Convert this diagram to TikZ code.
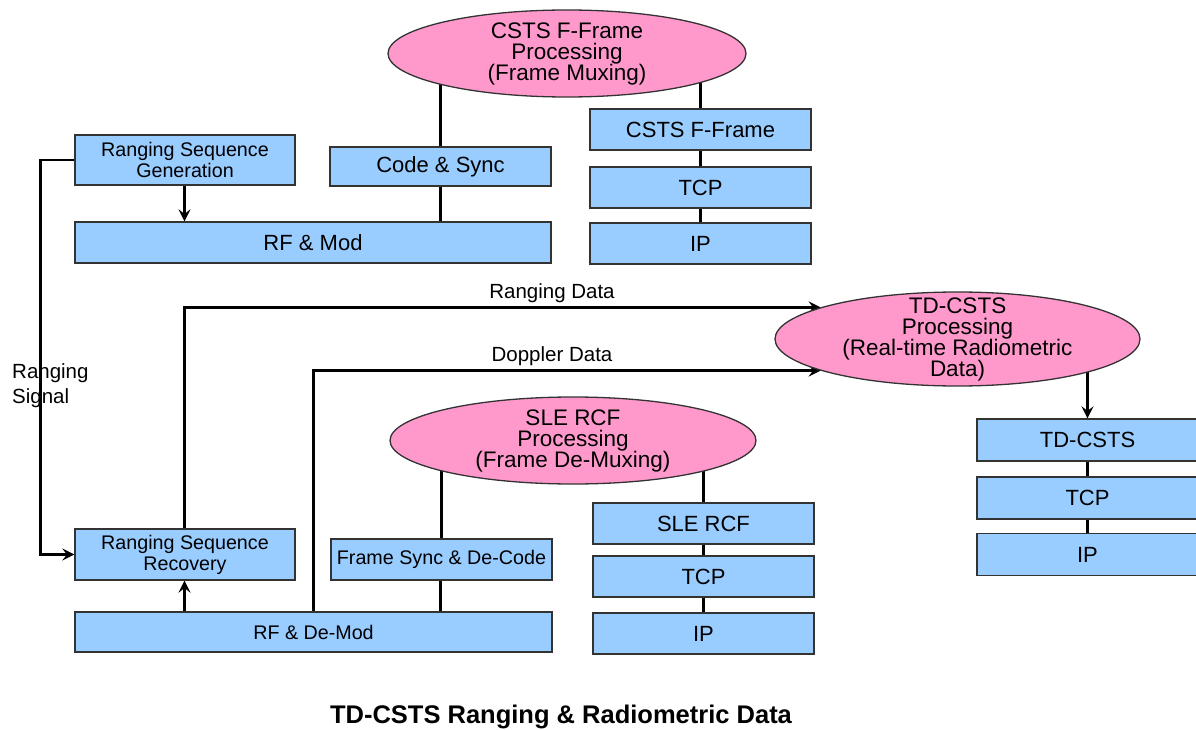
\documentclass[tikz,border=0pt]{standalone}
\usepackage{fontspec}
\setmainfont{Liberation Sans}
\usetikzlibrary{arrows.meta,shapes.geometric}
\pgfdeclarelayer{bg}
\pgfdeclarelayer{paper}
\pgfsetlayers{paper,bg,main}
\definecolor{boxblue}{HTML}{99CCFF}
\definecolor{ellpink}{HTML}{FF99CC}
\begin{document}
\begin{tikzpicture}[x=1pt,y=-1pt,
  box/.style={draw=black!80, line width=1.3pt, fill=boxblue, rectangle, inner sep=0pt, align=center, font=\fontsize{22}{22}\selectfont},
  smallbox/.style={box, font=\fontsize{19.7}{21}\selectfont},
  proc/.style={draw=black!80, line width=1.3pt, fill=ellpink, ellipse, inner sep=0pt},
  ptext/.style={align=center, inner sep=0pt, font=\fontsize{22.5}{21}\selectfont},
  conn/.style={line width=2.4pt, black},
  arr/.style={conn, -{Stealth[length=12pt,width=12pt,inset=4.5pt]}},
  lbl/.style={inner sep=0pt, font=\fontsize{20.5}{25}\selectfont}
]
\begin{pgfonlayer}{paper}
\fill[white] (0,0) rectangle (1196,730);
\end{pgfonlayer}
\useasboundingbox (0,0) rectangle (1196,730);

% top-left group
\node[proc, minimum width=358pt, minimum height=87pt,
  label={[ptext,name=cststxt]center:{CSTS F-Frame\\Processing\\(Frame Muxing)}}] (csts) at (567,53.5) {};
\node[smallbox, minimum width=220pt, minimum height=50pt] (rsg) at (185,160) {Ranging Sequence\\Generation};
\node[box, minimum width=221pt, minimum height=39pt] (cs) at (440.5,166.5) {Code \& Sync};
\node[box, minimum width=476pt, minimum height=41pt] (rfm) at (313,242.5) {RF \& Mod};
\node[box, minimum width=221pt, minimum height=41pt] (ff) at (700.5,129.5) {CSTS F-Frame};
\node[box, minimum width=221pt, minimum height=41pt] (tcpa) at (700.5,187.5) {TCP};
\node[box, minimum width=221pt, minimum height=41pt] (ipa) at (700.5,243.5) {IP};

% right group
\node[proc, minimum width=365pt, minimum height=94pt,
  label={[ptext,name=tdtxt]center:{TD-CSTS\\Processing\\(Real-time Radiometric\\Data)}}] (tdp) at (957.5,339) {};
\node[box, minimum width=221pt, minimum height=42pt] (tdb) at (1087.5,440) {TD-CSTS};
\node[box, minimum width=221pt, minimum height=42pt] (tcpc) at (1087.5,498) {TCP};
\node[box, minimum width=221pt, minimum height=42pt] (ipc) at (1087.5,554.5) {IP};

% bottom group
\node[proc, minimum width=366pt, minimum height=87pt,
  label={[ptext,name=sletxt]center:{SLE RCF\\Processing\\(Frame De-Muxing)}}] (sle) at (573,440.5) {};
\node[box, minimum width=221pt, minimum height=41pt] (rcf) at (703.5,523.5) {SLE RCF};
\node[box, minimum width=221pt, minimum height=41pt] (tcpb) at (703.5,576.5) {TCP};
\node[box, minimum width=221pt, minimum height=41pt] (ipb) at (703.5,633.5) {IP};
\node[smallbox, minimum width=220pt, minimum height=51pt] (rsr) at (185,554.5) {Ranging Sequence\\Recovery};
\node[smallbox, minimum width=221pt, minimum height=41pt] (fs) at (441.5,559.5) {Frame Sync \& De-Code};
\node[smallbox, minimum width=477pt, minimum height=40pt] (rfd) at (313.5,632) {RF \& De-Mod};

% labels
\node[lbl, anchor=west, align=left] (rsig) at (12,385.5) {Ranging\\Signal};
\node[lbl] (rdl) at (552,293) {Ranging Data};
\node[lbl] (ddl) at (552,356) {Doppler Data};
\node[inner sep=0pt, font=\bfseries\fontsize{25.5}{25}\selectfont] (title) at (561,717) {TD-CSTS Ranging \& Radiometric Data};

\coordinate (rsx) at (40.5,0);
\coordinate (dpx) at (313.5,0);

\begin{pgfonlayer}{bg}
  \draw[conn] (cs.north |- csts.center) -- (cs.north);
  \draw[conn] (cs.south) -- (cs.south |- rfm.north);
  \draw[conn] (ff.north |- csts.center) -- (ff.north);
  \draw[conn] (ff) -- (tcpa);
  \draw[conn] (tcpa) -- (ipa);
  \draw[conn] (sle.center -| fs.north) -- (fs.north);
  \draw[conn] ([xshift=-1pt]fs.south) -- ([xshift=-1pt]fs.south |- rfd.north);
  \draw[conn] (sle.center -| rcf.north) -- (rcf.north);
  \draw[conn] (rcf) -- (tcpb);
  \draw[conn] (tcpb) -- (ipb);
  \draw[conn] (tdb) -- (tcpc);
  \draw[conn] (tcpc) -- (ipc);
  \draw[arr] (tdp.center -| tdb.north) -- (tdb.north);
  \draw[arr] ([xshift=-0.5pt]rsg.south) -- ([xshift=-0.5pt]rsg.south |- rfm.north);
  \draw[arr] (rsg.west) -- (rsg.west -| rsx) |- (rsr.west);
  \draw[arr] ([xshift=-0.5pt]rsr.south |- rfd.north) -- ([xshift=-0.5pt]rsr.south);
  \draw[arr] ([xshift=-0.5pt]rsr.north) |- (tdp.167);
  \draw[arr] (rfd.north -| dpx) |- (tdp.193);
\end{pgfonlayer}
\end{tikzpicture}
\end{document}
